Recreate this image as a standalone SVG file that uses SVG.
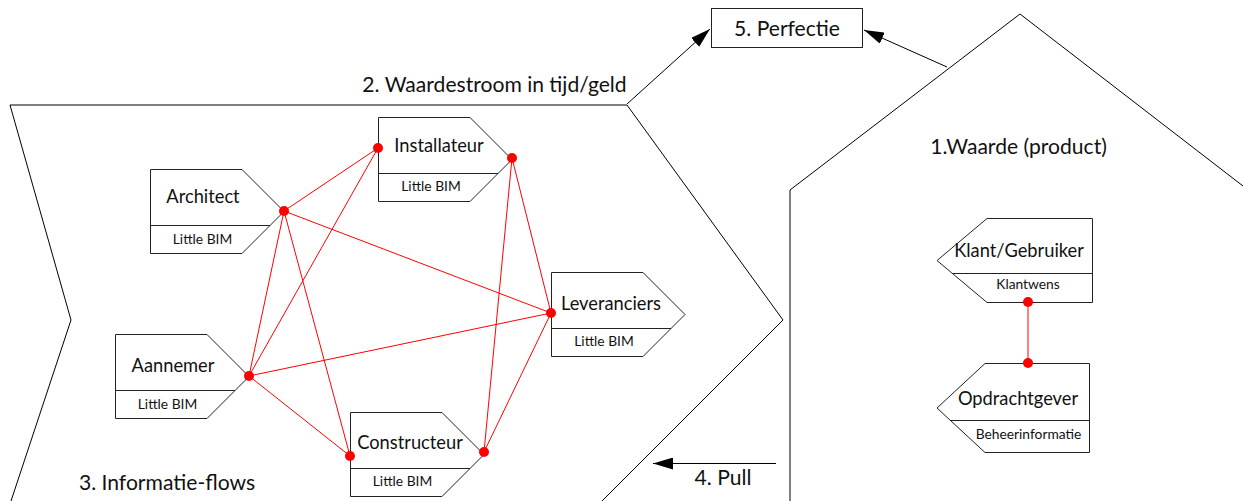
<svg xmlns="http://www.w3.org/2000/svg" width="1243" height="501" viewBox="0 0 1243 501">
  <style>
    .frame { fill: none; stroke: #000; stroke-width: 1; }
    .node { fill: #fff; stroke: #222; stroke-width: 1; }
    .div { stroke: #222; stroke-width: 1; }
    .lbl { font-family: Lato, "Liberation Sans", sans-serif; font-size: 18.3px; fill: #111; text-anchor: middle; }
    .sub { font-family: Lato, "Liberation Sans", sans-serif; font-size: 13.8px; fill: #111; text-anchor: middle; }
    .head { font-family: Lato, "Liberation Sans", sans-serif; font-size: 21.1px; fill: #111; text-anchor: middle; }
    .link { stroke: #ff0000; stroke-width: 1; fill: none; }
    .dot { fill: #ff0000; }
    .arrow { stroke: #000; stroke-width: 1; fill: none; }
  </style>
  <defs>
    <marker id="head" viewBox="0 0 20 12" refX="20" refY="6" markerWidth="20" markerHeight="12" markerUnits="userSpaceOnUse" orient="auto">
      <path d="M0,0 L20,6 L0,12 Z" fill="#000"/>
    </marker>
  </defs>
  <rect width="1243" height="501" fill="#fff"/>

  <!-- value stream chevron and value house -->
  <g id="frames">
    <path class="frame" d="M11,501 L71,320 L10,105 L627,105 L783,320 L602,501"/>
    <path class="frame" d="M790,501 L790,190 L1020,14 L1243,186"/>
  </g>

  <g id="titles">
    <text class="head" x="494.5" y="92">2. Waardestroom in tijd/geld</text>
    <text class="head" x="167" y="490">3. Informatie-flows</text>
    <text class="head" x="723" y="485">4. Pull</text>
    <text class="head" x="1018.5" y="154">1.Waarde (product)</text>
  </g>

  <g id="perfectie">
    <rect class="node" x="711.5" y="8.5" width="151" height="39"/>
    <text class="head" x="787" y="36">5. Perfectie</text>
  </g>

  <!-- information links between parties -->
  <g id="connectors">
    <line class="arrow" x1="627" y1="104" x2="710" y2="29" marker-end="url(#head)"/>
    <line class="arrow" x1="947" y1="67" x2="864" y2="30" marker-end="url(#head)"/>
    <line class="arrow" x1="776" y1="463.5" x2="653" y2="463.5" marker-end="url(#head)"/>
    <line class="link" x1="284" y1="211" x2="378" y2="148"/>
    <line class="link" x1="284" y1="211" x2="551" y2="313"/>
    <line class="link" x1="284" y1="211" x2="249" y2="376"/>
    <line class="link" x1="284" y1="211" x2="350" y2="456"/>
    <line class="link" x1="378" y1="148" x2="249" y2="376"/>
    <line class="link" x1="512" y1="158" x2="551" y2="313"/>
    <line class="link" x1="512" y1="158" x2="484" y2="452"/>
    <line class="link" x1="249" y1="376" x2="551" y2="313"/>
    <line class="link" x1="249" y1="376" x2="350" y2="456"/>
    <line class="link" x1="484" y1="452" x2="551" y2="313"/>
    <line class="link" x1="1028" y1="302" x2="1028" y2="363"/>
  </g>

  <g id="architect">
    <path class="node" d="M150.5,169.5 L242,169.5 L284,211.5 L242,253.5 L150.5,253.5 Z"/>
    <line class="div" x1="150.5" y1="225.5" x2="270" y2="225.5"/>
    <text class="lbl" x="203" y="203">Architect</text>
    <text class="sub" x="202.5" y="244">Little BIM</text>
  </g>

  <g id="installateur">
    <path class="node" d="M378.5,117.5 L470,117.5 L512,159.5 L470,201.5 L378.5,201.5 Z"/>
    <line class="div" x1="378.5" y1="173.5" x2="498" y2="173.5"/>
    <text class="lbl" x="439" y="152">Installateur</text>
    <text class="sub" x="431" y="191">Little BIM</text>
  </g>

  <g id="leveranciers">
    <path class="node" d="M551.5,272.5 L643,272.5 L685,314.5 L643,356.5 L551.5,356.5 Z"/>
    <line class="div" x1="551.5" y1="328.5" x2="671" y2="328.5"/>
    <text class="lbl" x="611" y="310">Leveranciers</text>
    <text class="sub" x="604" y="346">Little BIM</text>
  </g>

  <g id="aannemer">
    <path class="node" d="M115.5,334.5 L207,334.5 L249,376.5 L207,418.5 L115.5,418.5 Z"/>
    <line class="div" x1="115.5" y1="390.5" x2="235" y2="390.5"/>
    <text class="lbl" x="173" y="372">Aannemer</text>
    <text class="sub" x="167.5" y="409">Little BIM</text>
  </g>

  <g id="constructeur">
    <path class="node" d="M350.5,412.5 L442,412.5 L484,454.5 L442,496.5 L350.5,496.5 Z"/>
    <line class="div" x1="350.5" y1="468.5" x2="470" y2="468.5"/>
    <text class="lbl" x="410" y="449">Constructeur</text>
    <text class="sub" x="402.5" y="486">Little BIM</text>
  </g>

  <g id="klant">
    <path class="node" d="M1092.5,218.5 L987,218.5 L937,260.5 L987,302.5 L1092.5,302.5 Z"/>
    <line class="div" x1="952.5" y1="273.5" x2="1092.5" y2="273.5"/>
    <text class="lbl" x="1019" y="257">Klant/Gebruiker</text>
    <text class="sub" x="1028" y="289">Klantwens</text>
  </g>

  <g id="opdrachtgever">
    <path class="node" d="M1089.5,363.5 L985,363.5 L937,408 L985,452.5 L1089.5,452.5 Z"/>
    <line class="div" x1="950" y1="420.5" x2="1089.5" y2="420.5"/>
    <text class="lbl" x="1018" y="405">Opdrachtgever</text>
    <text class="sub" x="1028.5" y="439">Beheerinformatie</text>
  </g>

  <!-- connection points -->
  <g id="points">
    <circle class="dot" cx="284" cy="211" r="5"/>
    <circle class="dot" cx="378" cy="148" r="5"/>
    <circle class="dot" cx="512" cy="158" r="5"/>
    <circle class="dot" cx="551" cy="313" r="5"/>
    <circle class="dot" cx="249" cy="376" r="5"/>
    <circle class="dot" cx="350" cy="456" r="5"/>
    <circle class="dot" cx="484" cy="452" r="5"/>
    <circle class="dot" cx="1028" cy="302" r="5"/>
    <circle class="dot" cx="1028" cy="363" r="5"/>
  </g>
</svg>
